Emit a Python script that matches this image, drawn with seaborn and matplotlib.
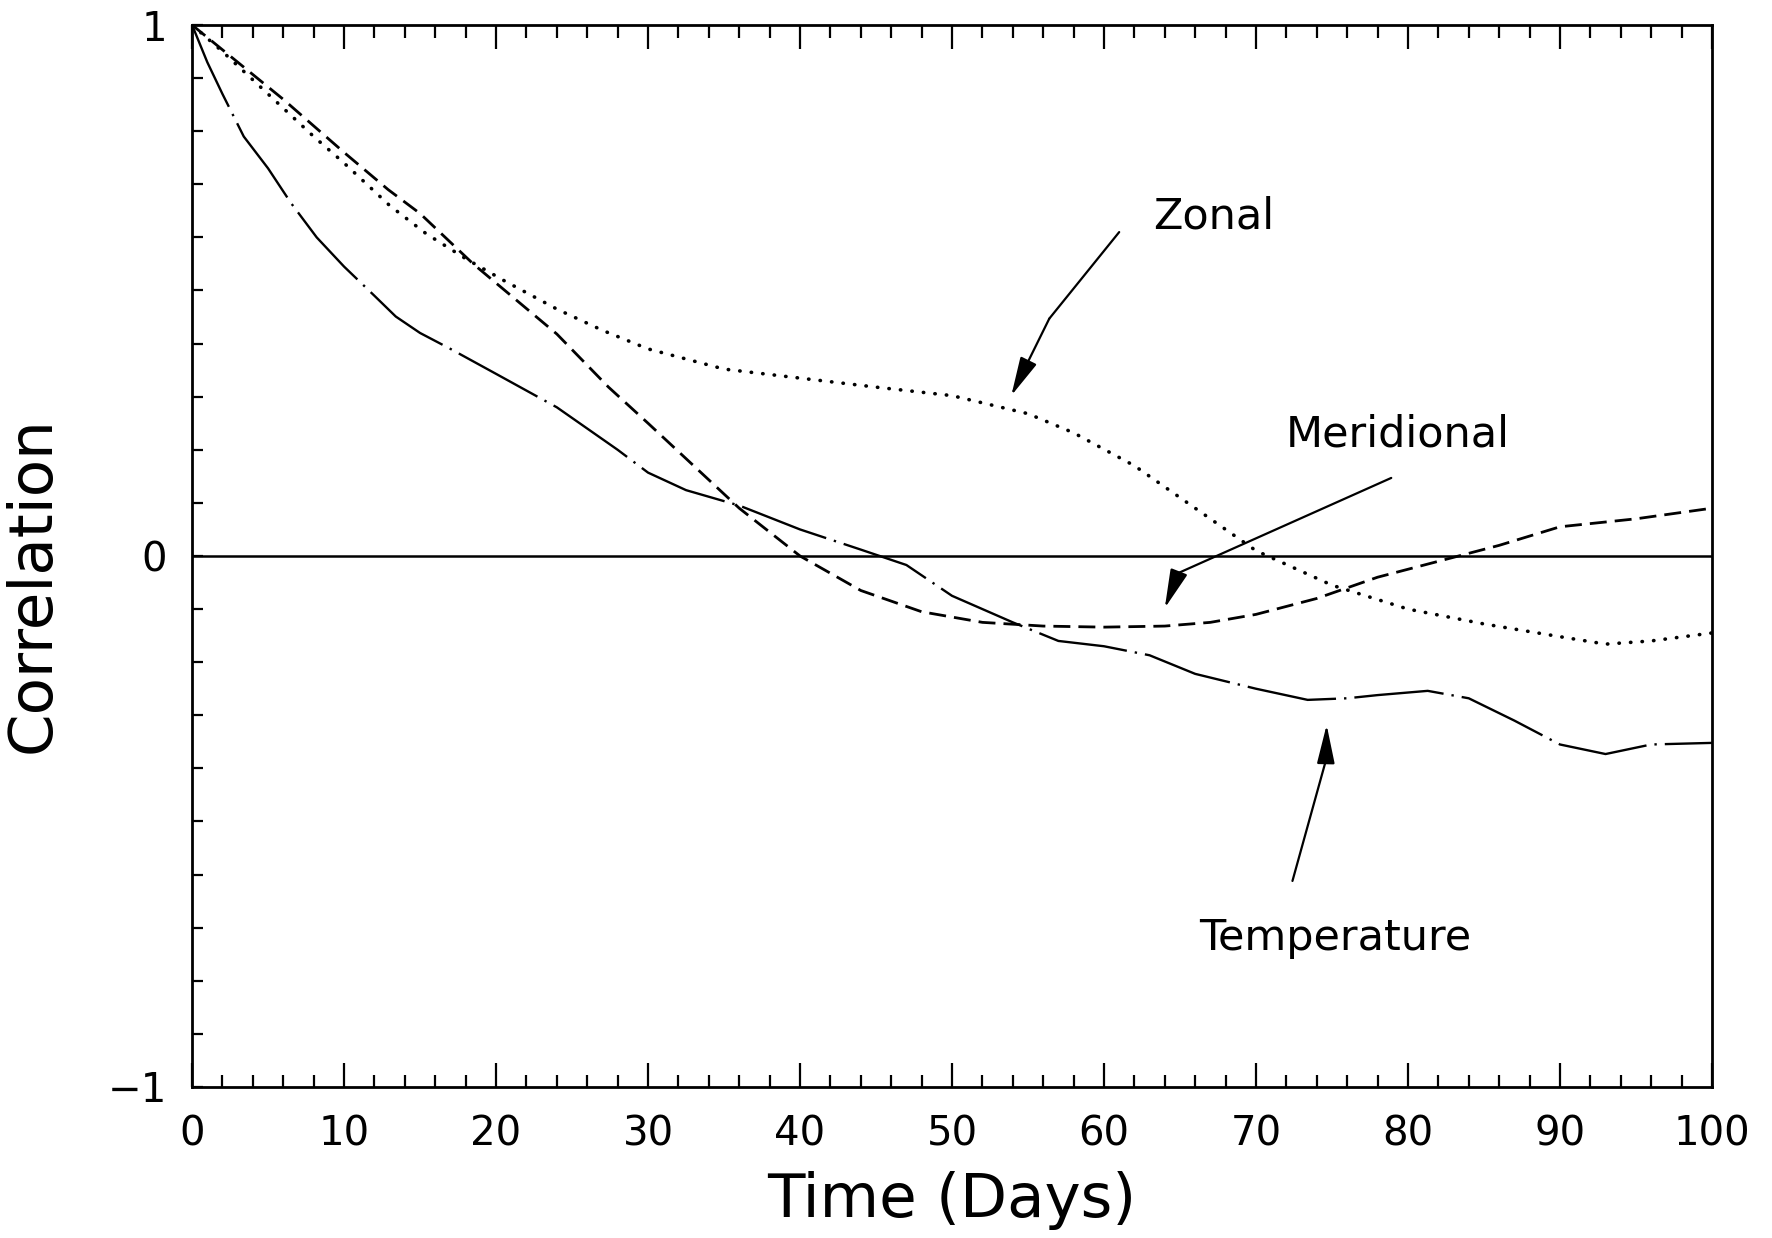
import numpy as np
import pandas as pd
import matplotlib
matplotlib.use("Agg")
import matplotlib.pyplot as plt
import seaborn as sns

# ---- data ----
zonal_days = [0, 2, 5, 8, 10, 13, 15.4, 18, 20.5, 24, 27, 30, 35, 40, 45, 50, 55, 58, 62, 66, 70, 75, 80, 85, 90, 93, 96, 100]
zonal_corr = [1.0, 0.95, 0.87, 0.79, 0.74, 0.66, 0.607, 0.56, 0.519, 0.465, 0.425, 0.39, 0.352, 0.335, 0.318, 0.302,
              0.268, 0.232, 0.17, 0.09, 0.01, -0.055, -0.1, -0.128, -0.152, -0.166, -0.16, -0.145]

merid_days = [0, 3, 6, 10, 12.9, 15, 18.5, 21, 24, 27.4, 30, 33, 36, 40, 44, 48, 52, 56, 60, 64, 67, 70, 74, 78, 82, 86, 90, 95, 100]
merid_corr = [1.0, 0.93, 0.86, 0.76, 0.69, 0.645, 0.55, 0.49, 0.418, 0.318, 0.25, 0.17, 0.09, 0.0, -0.065, -0.105,
              -0.125, -0.132, -0.134, -0.132, -0.125, -0.11, -0.08, -0.04, -0.01, 0.02, 0.055, 0.07, 0.09]

temp_days = [0, 1, 2, 3.4, 5, 6.5, 8.2, 10, 12, 13.4, 15, 17, 20, 24, 26.2, 28, 30, 32.5, 36, 40, 44, 47, 50, 54, 57,
             60, 63, 66, 70, 73.4, 76, 78, 81.3, 84, 87, 90, 93, 96, 100]
temp_corr = [1.0, 0.93, 0.87, 0.79, 0.73, 0.665, 0.60, 0.545, 0.49, 0.451, 0.42, 0.39, 0.343, 0.28, 0.236, 0.20, 0.157,
             0.124, 0.095, 0.05, 0.012, -0.017, -0.075, -0.125, -0.16, -0.17, -0.187, -0.222, -0.25, -0.271, -0.268,
             -0.262, -0.254, -0.268, -0.31, -0.355, -0.373, -0.355, -0.352]

series_names = ["Zonal", "Meridional", "Temperature"]
x_major = list(range(0, 101, 10))
y_major = [-1, 0, 1]
y_major_labels = ["\u22121", "0", "1"]

df = pd.concat([
    pd.DataFrame({"day": zonal_days, "corr": zonal_corr, "series": "Zonal"}),
    pd.DataFrame({"day": merid_days, "corr": merid_corr, "series": "Meridional"}),
    pd.DataFrame({"day": temp_days, "corr": temp_corr, "series": "Temperature"}),
], ignore_index=True)

sns.set_style("ticks")
plt.rcParams["font.family"] = ["DejaVu Sans"]
plt.rcParams["text.color"] = "black"
plt.rcParams["axes.labelcolor"] = "black"
plt.rcParams["xtick.color"] = "black"
plt.rcParams["ytick.color"] = "black"

fig = plt.figure(figsize=(17.72, 12.38), dpi=100)
ax = fig.add_axes([0.1084, 0.122, 0.8577, 0.8578])

ax.axhline(0, color="black", lw=1.8, zorder=1)

dashes = {"Zonal": (0.1, 3.1), "Meridional": (6.1, 2.9), "Temperature": (38, 3.4, 1, 3.4)}
sns.lineplot(data=df, x="day", y="corr", hue="series", style="series", hue_order=series_names,
             style_order=series_names, palette=["black"] * 3, dashes=dashes, legend=False,
             sort=True, estimator=None, ax=ax)
widths = {"Zonal": 2.6, "Meridional": 2.0, "Temperature": 1.7}
for ln, name in zip(ax.get_lines()[1:], series_names):
    ln.set_linewidth(widths[name])
    if name == "Zonal":
        ln.set_dash_capstyle("round")

ax.set_xlim(0, 100)
ax.set_ylim(-1, 1)
ax.set_xticks(x_major)
ax.set_xticks(np.arange(0, 101, 2), minor=True)
ax.set_yticks(y_major)
ax.set_yticklabels(y_major_labels)
ax.set_yticks(np.round(np.arange(-1, 1.001, 0.1), 2), minor=True)

ax.tick_params(axis="x", which="major", direction="in", length=17, width=1.6, top=True, bottom=True,
               labelsize=29, pad=20)
ax.tick_params(axis="x", which="minor", direction="in", length=9, width=1.6, top=True, bottom=True)
ax.tick_params(axis="y", which="both", direction="in", length=8, width=1.6, left=True, right=False,
               labelsize=29, pad=18)
for s in ax.spines.values():
    s.set_visible(True)
    s.set_linewidth(2.0)
    s.set_color("black")

ax.set_xlabel("Time (Days)", fontsize=44, labelpad=12)
ax.set_ylabel("Correlation", fontsize=44)
ax.yaxis.set_label_coords(-0.0855, 0.473)

# annotations
arrow_kw = dict(arrowstyle="-|>,head_length=2.4,head_width=0.55", color="black", lw=1.6,
                shrinkA=0, shrinkB=0)
ax.text(67.2, 0.64, "Zonal", fontsize=31, ha="center", va="center")
ax.plot([61.0, 56.4], [0.61, 0.447], color="black", lw=1.6)
ax.annotate("", xy=(53.9, 0.302), xytext=(56.4, 0.447), arrowprops=arrow_kw)

ax.text(79.3, 0.228, "Meridional", fontsize=31, ha="center", va="center")
ax.plot([78.9, 64.9], [0.147, -0.032], color="black", lw=1.6)
ax.annotate("", xy=(64.0, -0.098), xytext=(64.9, -0.032), arrowprops=arrow_kw)

ax.text(75.2, -0.72, "Temperature", fontsize=31, ha="center", va="center")
ax.plot([72.4, 74.6], [-0.612, -0.385], color="black", lw=1.6)
ax.annotate("", xy=(74.65, -0.318), xytext=(74.6, -0.385), arrowprops=arrow_kw)

fig.savefig("out.png", dpi=100, facecolor="white")
